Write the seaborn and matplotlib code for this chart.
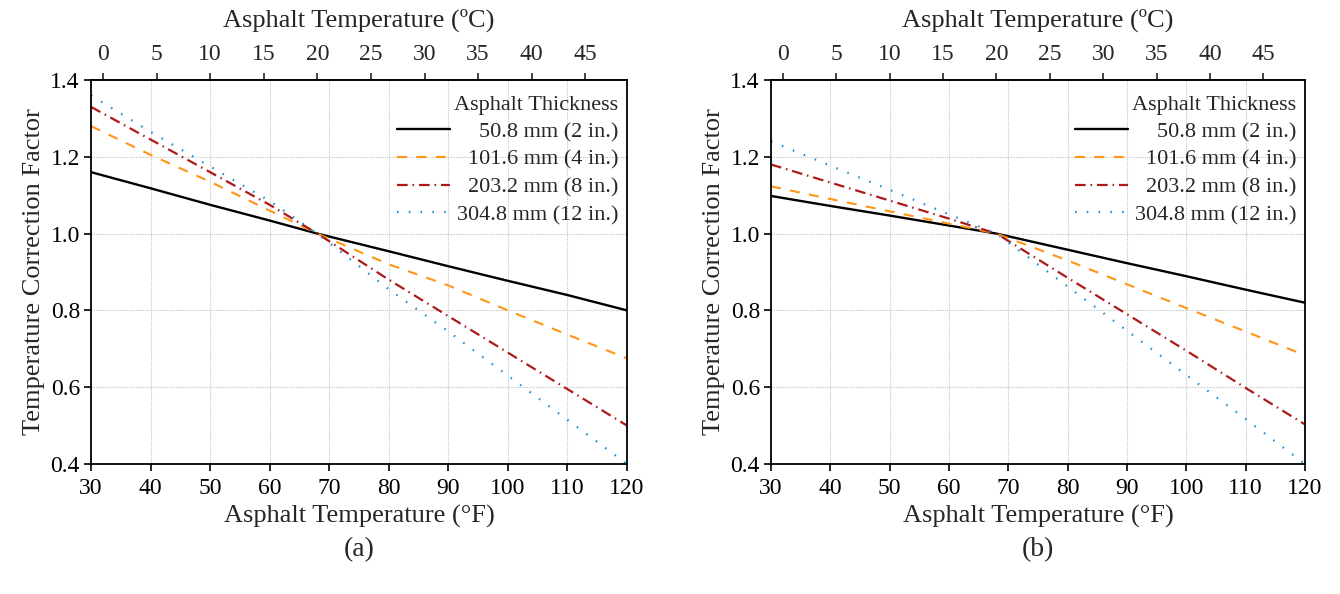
import numpy as np
import pandas as pd
import matplotlib
matplotlib.use("Agg")
import matplotlib.pyplot as plt
import seaborn as sns

# ---------------- data ----------------
temp_f = [30, 40, 50, 60, 68, 80, 90, 100, 110, 120]

labels = ["50.8 mm (2 in.)", "101.6 mm (4 in.)", "203.2 mm (8 in.)", "304.8 mm (12 in.)"]

# panel (a)
a_2in = [1.160, 1.118, 1.075, 1.034, 1.000, 0.954, 0.915, 0.877, 0.840, 0.800]
a_4in = [1.280, 1.205, 1.135, 1.060, 1.000, 0.920, 0.865, 0.800, 0.737, 0.675]
a_8in = [1.330, 1.245, 1.160, 1.075, 1.000, 0.880, 0.785, 0.690, 0.595, 0.500]
a_12in = [1.360, 1.265, 1.175, 1.085, 1.000, 0.855, 0.745, 0.630, 0.515, 0.400]

# panel (b)
b_2in = [1.098, 1.072, 1.047, 1.021, 1.000, 0.958, 0.923, 0.889, 0.854, 0.820]
b_4in = [1.123, 1.090, 1.058, 1.026, 1.000, 0.930, 0.868, 0.806, 0.745, 0.683]
b_8in = [1.180, 1.133, 1.086, 1.039, 1.000, 0.885, 0.790, 0.695, 0.598, 0.503]
b_12in = [1.240, 1.177, 1.114, 1.050, 1.000, 0.862, 0.747, 0.632, 0.517, 0.400]

x_ticks_f = [30, 40, 50, 60, 70, 80, 90, 100, 110, 120]
x_ticks_c = [0, 5, 10, 15, 20, 25, 30, 35, 40, 45]
y_ticks = [0.4, 0.6, 0.8, 1.0, 1.2, 1.4]
panel_names = ["(a)", "(b)"]

colors = ["#000000", "#FF9416", "#AE1A1A", "#1A8ED0"]
styles = ["-", (0, (4.8, 4.5)), (0, (4.8, 2.2, 0.7, 2.2)), (0, (0.7, 4.6))]
widths = [1.7, 1.5, 1.6, 1.6]

# ---------------- style ----------------
sns.set_style("ticks")
plt.rcParams["font.family"] = ["Liberation Serif", "DejaVu Serif"]
plt.rcParams["axes.linewidth"] = 1.3

fig = plt.figure(figsize=(13.4, 5.94), dpi=100)
ax_a = fig.add_axes([91 / 1340, 1 - 464 / 594, (627 - 91) / 1340, (464 - 80) / 594])
ax_b = fig.add_axes([771 / 1340, 1 - 464 / 594, (1305 - 771) / 1340, (464 - 80) / 594])

panels = [
    (ax_a, [a_2in, a_4in, a_8in, a_12in]),
    (ax_b, [b_2in, b_4in, b_8in, b_12in]),
]

f2c = lambda f: (np.asarray(f) - 32.0) * 5.0 / 9.0
c2f = lambda c: np.asarray(c) * 9.0 / 5.0 + 32.0

legends = []
for (ax, series), pname in zip(panels, panel_names):
    for vals, lab, col, ls, lw in zip(series, labels, colors, styles, widths):
        df = pd.DataFrame({"T": temp_f, "TCF": vals})
        sns.lineplot(data=df, x="T", y="TCF", ax=ax, color=col, linestyle=ls,
                     linewidth=lw, label=lab)

    ax.set_xlim(30, 120)
    ax.set_ylim(0.4, 1.4)
    ax.set_xticks(x_ticks_f)
    ax.set_yticks(y_ticks)
    ax.set_yticklabels([f"{v:.1f}" for v in y_ticks])
    ax.grid(True, color="#c4c4c4", linestyle=(0, (1, 1)), linewidth=0.8)
    ax.set_axisbelow(True)
    for sp in ax.spines.values():
        sp.set_visible(True)
        sp.set_color("black")
        sp.set_linewidth(1.3)
    ax.tick_params(axis="both", direction="out", length=5, width=1.2,
                   labelsize=17, color="black", labelcolor="black")
    ax.tick_params(axis="x", pad=5)
    ax.tick_params(axis="y", pad=3)
    ax.set_xlabel("Asphalt Temperature (°F)", fontsize=19, labelpad=4)
    ax.set_ylabel("Temperature Correction Factor", fontsize=19, labelpad=4)

    sec = ax.secondary_xaxis("top", functions=(f2c, c2f))
    sec.set_xticks(x_ticks_c)
    sec.tick_params(direction="out", length=5, width=1.2, labelsize=17, pad=6)
    sec.set_xlabel("Asphalt Temperature (ºC)", fontsize=19, labelpad=12)

    leg = ax.legend(title="Asphalt Thickness", loc="upper right",
                    bbox_to_anchor=(1.013, 1.0), frameon=False, fontsize=16,
                    title_fontsize=16, handlelength=2.4, handletextpad=0.3,
                    labelspacing=0.32, borderaxespad=0.3, alignment="right")
    legends.append(leg)

    bb = ax.get_position()
    fig.text((bb.x0 + bb.x1) / 2, 1 - 550 / 594, pname, ha="center", va="center",
             fontsize=20)

# right-align the legend entry texts
fig.canvas.draw()
renderer = fig.canvas.get_renderer()
for leg in legends:
    texts = leg.get_texts()
    widths_px = [t.get_window_extent(renderer).width for t in texts]
    maxw = max(widths_px)
    for t, w in zip(texts, widths_px):
        t.set_position((maxw - w, 0))

fig.savefig("out.png", dpi=100)
